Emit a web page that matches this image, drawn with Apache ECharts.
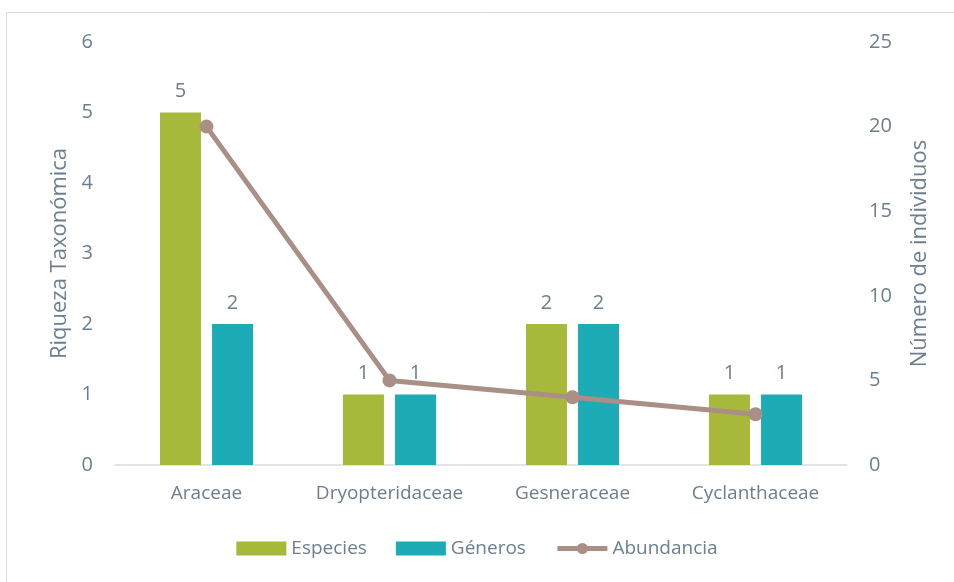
<!DOCTYPE html>
<html>
<head>
<meta charset="utf-8">
<script src="https://cdn.jsdelivr.net/npm/echarts@6/dist/echarts.min.js"></script>
<style>
html,body{margin:0;padding:0;background:#fff;}
#chart{width:954px;height:582px;}
</style>
</head>
<body>
<div id="chart"></div>
<script>
// Families and their taxonomic richness / abundance
const familias = ['Araceae', 'Dryopteridaceae', 'Gesneraceae', 'Cyclanthaceae'];
const especies = [5, 1, 2, 1];
const generos = [2, 1, 2, 1];
const abundancia = [20, 5, 4, 3];

const textColor = '#6b7f8e';
const font = 'Open Sans';

const chart = echarts.init(document.getElementById('chart'));
chart.setOption({
  animation: false,
  backgroundColor: '#fff',
  textStyle: { fontFamily: font, color: textColor },
  graphic: [{
    type: 'rect',
    shape: { x: 6.5, y: 12.5, width: 1000, height: 1000 },
    style: { fill: 'none', stroke: '#d9dcdf', lineWidth: 1 },
    silent: true
  }],
  grid: { left: 115, right: 107, top: 42, bottom: 117 },
  legend: {
    bottom: 19,
    left: 'center',
    itemGap: 29,
    itemWidth: 50,
    itemHeight: 14,
    textStyle: { color: textColor, fontSize: 19, fontFamily: font },
    data: [
      { name: 'Especies', icon: 'rect' },
      { name: 'Géneros', icon: 'rect' },
      { name: 'Abundancia', lineStyle: { width: 5 } }
    ]
  },
  xAxis: {
    type: 'category',
    data: familias,
    axisLine: { lineStyle: { color: '#d9dde0', width: 1.5 } },
    axisTick: { show: false },
    axisLabel: { color: textColor, fontSize: 19, margin: 19, interval: 0 }
  },
  yAxis: [{
    type: 'value',
    min: 0, max: 6, interval: 1,
    name: 'Riqueza Taxonómica',
    nameLocation: 'middle',
    nameGap: 42,
    nameTextStyle: { color: textColor, fontSize: 22 },
    splitLine: { show: false },
    axisLine: { show: false },
    axisTick: { show: false },
    axisLabel: { color: textColor, fontSize: 20, margin: 22 }
  }, {
    type: 'value',
    min: 0, max: 25, interval: 5,
    name: 'Número de individuos',
    nameLocation: 'middle',
    nameGap: 62,
    nameTextStyle: { color: textColor, fontSize: 22 },
    splitLine: { show: false },
    axisLine: { show: false },
    axisTick: { show: false },
    axisLabel: { color: textColor, fontSize: 20, margin: 22 }
  }],
  series: [{
    name: 'Especies',
    type: 'bar',
    data: especies,
    barWidth: 41,
    barGap: '27%',
    itemStyle: { color: '#a8b83a' },
    label: { show: true, position: 'top', distance: 11, color: textColor, fontSize: 20, fontFamily: font }
  }, {
    name: 'Géneros',
    type: 'bar',
    data: generos,
    barWidth: 41,
    itemStyle: { color: '#1dacb5' },
    label: { show: true, position: 'top', distance: 11, color: textColor, fontSize: 20, fontFamily: font }
  }, {
    name: 'Abundancia',
    type: 'line',
    yAxisIndex: 1,
    data: abundancia,
    symbol: 'circle',
    symbolSize: 14,
    lineStyle: { color: '#a98f85', width: 5 },
    itemStyle: { color: '#a98f85' },
    z: 5
  }]
});
</script>
</body>
</html>
